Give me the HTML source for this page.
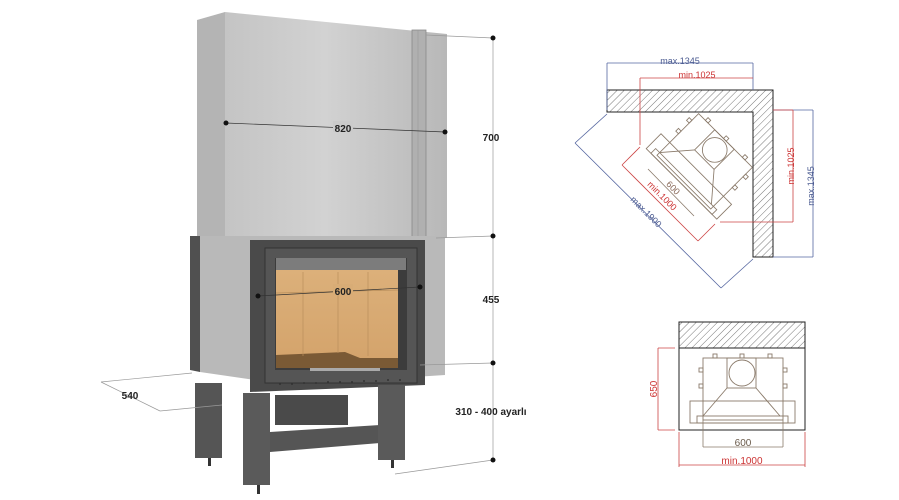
<!DOCTYPE html>
<html><head><meta charset="utf-8"><style>
html,body{margin:0;padding:0;background:#fff;width:899px;height:500px;overflow:hidden}
svg{display:block}
text{font-family:"Liberation Sans",sans-serif}
</style></head><body>
<svg width="899" height="500" viewBox="0 0 899 500" xmlns="http://www.w3.org/2000/svg">
<defs>
<linearGradient id="hood" x1="0" y1="0" x2="1" y2="0">
<stop offset="0" stop-color="#c4c4c4"/><stop offset="0.45" stop-color="#d2d2d2"/><stop offset="1" stop-color="#b8b8b8"/>
</linearGradient>
<linearGradient id="brick" x1="0" y1="0" x2="0" y2="1">
<stop offset="0" stop-color="#dcb07a"/><stop offset="1" stop-color="#d4a46c"/>
</linearGradient>
<pattern id="hatch" width="5" height="5" patternUnits="userSpaceOnUse" patternTransform="rotate(45)">
<rect width="5" height="5" fill="#fff"/><line x1="0" y1="0" x2="0" y2="5" stroke="#555" stroke-width="0.8"/>
</pattern>
<g id="fp" fill="none" stroke="#8a7a6a" stroke-width="0.9">
<rect x="-40" y="-32" width="80" height="62"/>
<rect x="-16" y="-32" width="29" height="30"/>
<circle cx="-1" cy="-17" r="13"/>
<rect x="-53" y="11" width="105" height="22"/>
<rect x="-46" y="26" width="91" height="7"/>
<line x1="-16" y1="-2" x2="-40" y2="26"/><line x1="13" y1="-2" x2="37" y2="26"/>
<rect x="-30" y="-36" width="4" height="4"/><rect x="-3" y="-36" width="4" height="4"/><rect x="25" y="-36" width="4" height="4"/>
<rect x="-44" y="-22" width="4" height="4"/><rect x="-44" y="-6" width="4" height="4"/>
<rect x="40" y="-22" width="4" height="4"/><rect x="40" y="-6" width="4" height="4"/>
</g>
</defs>

<!-- hood -->
<polygon points="197,20 225,12 225,240 197,240" fill="#b4b4b4"/>
<polygon points="225,12 447,34 447,238 225,238" fill="url(#hood)"/>
<rect x="412" y="30" width="14" height="208" fill="#b0b0b0" stroke="#8a8a8a" stroke-width="0.8"/>
<line x1="418" y1="30" x2="418" y2="238" stroke="#999" stroke-width="0.6"/>
<!-- body -->
<polygon points="190,236 200,236 200,372 190,370" fill="#505050"/>
<polygon points="200,236 445,236 445,375 290,385 200,372" fill="#b9b9b9"/>
<polygon points="250,240 425,240 425,385 250,392" fill="#4a4a4a"/>
<rect x="265" y="248" width="152" height="135" fill="#555" stroke="#333" stroke-width="1"/>
<rect x="275" y="258" width="132" height="112" fill="#3c3c3c"/>
<rect x="276" y="270" width="122" height="88" fill="url(#brick)"/>
<rect x="276" y="258" width="130" height="12" fill="#7c7c7c"/>
<polygon points="276,355 345,352 360,358 398,358 398,368 276,368" fill="#7a5a35"/>
<g stroke="#b98f5c" stroke-width="0.7">
<line x1="303" y1="272" x2="303" y2="356"/><line x1="338" y1="272" x2="338" y2="353"/><line x1="368" y1="272" x2="368" y2="356"/>
<line x1="276" y1="293" x2="398" y2="290"/>
</g>
<rect x="310" y="368" width="70" height="3" fill="#aaa"/>
<g fill="#333"><circle cx="280" cy="384" r="1"/><circle cx="292" cy="384" r="1"/><circle cx="304" cy="383" r="1"/><circle cx="316" cy="383" r="1"/><circle cx="328" cy="382" r="1"/><circle cx="340" cy="382" r="1"/><circle cx="352" cy="382" r="1"/><circle cx="364" cy="381" r="1"/><circle cx="376" cy="381" r="1"/><circle cx="388" cy="380" r="1"/><circle cx="400" cy="380" r="1"/></g>
<!-- legs -->
<rect x="195" y="383" width="27" height="75" fill="#555"/>
<rect x="275" y="395" width="73" height="30" fill="#4a4a4a"/>
<polygon points="270,432 380,425 380,443 270,452" fill="#555"/>
<rect x="243" y="393" width="27" height="92" fill="#5a5a5a"/>
<rect x="378" y="385" width="27" height="75" fill="#5a5a5a"/>
<rect x="208" y="458" width="3" height="8" fill="#333"/><rect x="257" y="485" width="3" height="9" fill="#333"/><rect x="391" y="460" width="3" height="8" fill="#333"/>

<!-- dims left -->
<g stroke="#999" stroke-width="0.7" fill="none">
<line x1="426" y1="35" x2="493" y2="38"/><line x1="493" y1="38" x2="493" y2="460"/>
<line x1="436" y1="238" x2="493" y2="236"/><line x1="420" y1="365" x2="493" y2="363"/>
<line x1="395" y1="474" x2="493" y2="460"/>
<line x1="192" y1="373" x2="101" y2="382"/><line x1="101" y1="382" x2="160" y2="411"/><line x1="160" y1="411" x2="222" y2="405"/>
</g>
<g stroke="#333" stroke-width="0.7"><line x1="226" y1="123" x2="445" y2="132"/><line x1="258" y1="296" x2="420" y2="287"/></g>
<g fill="#111"><circle cx="493" cy="38" r="2.5"/><circle cx="493" cy="236" r="2.5"/><circle cx="493" cy="363" r="2.5"/><circle cx="493" cy="460" r="2.5"/>
<circle cx="226" cy="123" r="2.5"/><circle cx="445" cy="132" r="2.5"/><circle cx="258" cy="296" r="2.5"/><circle cx="420" cy="287" r="2.5"/></g>
<g font-size="10" font-weight="bold" fill="#222" text-anchor="middle">
<rect x="333" y="121" width="20" height="11" fill="#cbcbcb"/>
<text x="343" y="132">820</text><text x="491" y="141">700</text>
<rect x="333" y="284" width="20" height="11" fill="#d8ac76"/>
<text x="343" y="295">600</text><text x="491" y="303">455</text>
<text x="491" y="415">310 - 400 ayarlı</text><text x="130" y="399">540</text>
</g>

<!-- corner diagram -->
<polygon points="607,90 773,90 773,257 753,257 753,112 607,112" fill="url(#hatch)" stroke="#222" stroke-width="1"/>
<g fill="none" stroke-width="0.8">
<g stroke="#5566a0"><line x1="607" y1="63" x2="753" y2="63"/><line x1="607" y1="63" x2="607" y2="110"/><line x1="753" y1="63" x2="753" y2="90"/>
<line x1="773" y1="110" x2="813" y2="110"/><line x1="773" y1="257" x2="813" y2="257"/><line x1="813" y1="110" x2="813" y2="257"/>
<line x1="575" y1="143" x2="721" y2="288"/><line x1="575" y1="143" x2="607" y2="114"/><line x1="721" y1="288" x2="753" y2="259"/></g>
<g stroke="#c44"><line x1="640" y1="78" x2="753" y2="78"/><line x1="640" y1="78" x2="640" y2="145"/>
<line x1="773" y1="110" x2="793" y2="110"/><line x1="793" y1="110" x2="793" y2="222"/><line x1="720" y1="222" x2="793" y2="222"/>
<line x1="622" y1="165" x2="698" y2="241"/><line x1="622" y1="165" x2="640" y2="147"/><line x1="698" y1="241" x2="715" y2="224"/></g>
<line x1="648" y1="169" x2="694" y2="216" stroke="#8a7a6a"/>
</g>
<use href="#fp" transform="translate(704,162) rotate(45) scale(0.95)"/>
<g font-size="9" text-anchor="middle">
<text x="680" y="64" fill="#4a5a90">max.1345</text><text x="697" y="78" fill="#c33">min.1025</text>
<text fill="#c33" transform="translate(794,166) rotate(-90)">min.1025</text>
<text fill="#4a5a90" transform="translate(814,186) rotate(-90)">max.1345</text>
<text fill="#4a5a90" transform="translate(644,214) rotate(45)">max.1900</text>
<text fill="#c33" transform="translate(660,198) rotate(45)">min.1000</text>
<text fill="#8a6a5a" transform="translate(671,190) rotate(45)">600</text>
</g>

<!-- front diagram -->
<rect x="679" y="322" width="126" height="26" fill="url(#hatch)" stroke="#222" stroke-width="1"/>
<rect x="679" y="348" width="126" height="82" fill="none" stroke="#222" stroke-width="1"/>
<use href="#fp" transform="translate(743,390)"/>
<g fill="none" stroke-width="0.8">
<g stroke="#8a7a6a"><line x1="703" y1="420" x2="703" y2="447"/><line x1="783" y1="420" x2="783" y2="447"/><line x1="703" y1="447" x2="783" y2="447"/></g>
<g stroke="#c44"><line x1="679" y1="432" x2="679" y2="467"/><line x1="805" y1="432" x2="805" y2="467"/><line x1="679" y1="465" x2="805" y2="465"/>
<line x1="658" y1="348" x2="675" y2="348"/><line x1="658" y1="430" x2="675" y2="430"/><line x1="658" y1="348" x2="658" y2="430"/></g>
</g>
<g font-size="10" text-anchor="middle">
<text x="743" y="446" fill="#6a5a4a">600</text><text x="742" y="464" fill="#c33">min.1000</text>
<text fill="#c33" transform="translate(657,389) rotate(-90)">650</text>
</g>
</svg>
</body></html>
